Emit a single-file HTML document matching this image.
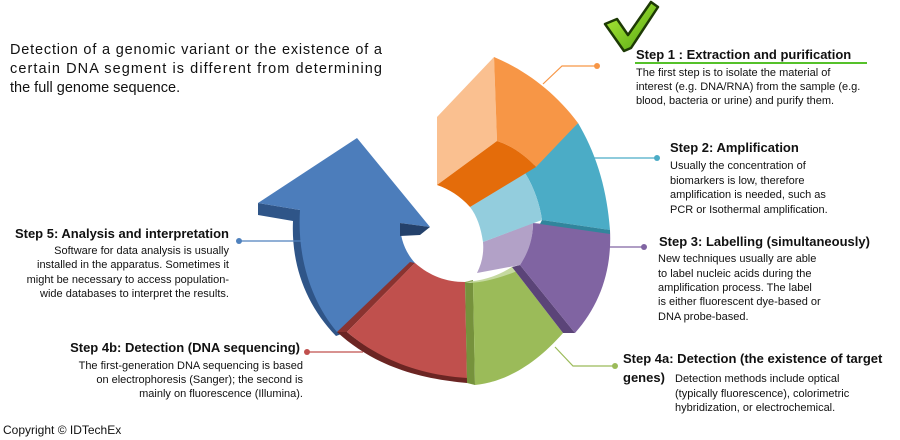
<!DOCTYPE html>
<html><head><meta charset="utf-8"><style>
html,body{margin:0;padding:0;background:#fff;width:900px;height:440px;overflow:hidden}
svg{display:block}
text{font-family:"Liberation Sans",Arial,sans-serif;fill:#111}
.h{font-weight:bold;font-size:13px}
.b{font-size:11px}
</style></head><body>
<svg width="900" height="440" viewBox="0 0 900 440" xmlns="http://www.w3.org/2000/svg">
<defs>
<linearGradient id="cg" x1="0" y1="0" x2="1" y2="1"><stop offset="0" stop-color="#b6f03a"/><stop offset="1" stop-color="#4fa412"/></linearGradient>
</defs>
<!-- intro -->
<text x="10" y="54" font-size="14.5" textLength="372" lengthAdjust="spacing">Detection of a genomic variant or the existence of a</text>
<text x="10" y="73" font-size="14.5" textLength="372" lengthAdjust="spacing">certain DNA segment is different from determining</text>
<text x="10" y="92" font-size="14.5">the full genome sequence.</text>

<!-- blue arrow -->
<path d="M258,203 L258,215 L293,221 C291,265 306,305 336,336 L347,332 L300,210 Z" fill="#2f5588"/>
<path d="M357,138 L258,203 L300,210 C297,255 310,300 337,332 L415,263 C405,252 400,238 400,223 L430,227 Z" fill="#4c7dbb"/>
<path d="M400,223 L430,227 L420,235 L400,236 Z" fill="#24416b"/>
<!-- red -->
<path d="M337,332 L347,332 L415,263 L410,262 Z" fill="#8a3330"/>
<path d="M337,332 C370,362 410,378 467,383 L467,377 C415,372 378,358 347,332 Z" fill="#6b2523"/>
<path d="M415,263 C430,276 446,282 465,282 L467,378 C420,375 380,360 347,332 Z" fill="#c0504d"/>
<!-- green -->
<path d="M465,282 L473,280 L475,385 L467,383 Z" fill="#76923c"/>
<path d="M465,282 C482,282 498,276 512,267 L563,333 C535,365 505,382 475,385 L473,282 Z" fill="#9bbb59"/>
<path d="M465,282 C482,281 498,276 512,267 L520,270 C500,278 485,282 470,283 Z" fill="#c5d9a0"/>
<!-- purple -->
<path d="M512,267 L520,265 L575,333 L563,333 Z" fill="#5b4478"/>
<path d="M520,265 C528,252 533,238 533,223 L610,230 C612,270 600,305 575,333 Z" fill="#8064a2"/>
<path d="M483,242 L533,223 C533,240 528,253 520,265 L477,273 C482,263 484,253 483,242 Z" fill="#b2a1c7"/>
<!-- teal -->
<path d="M525,173 L578,123 C597,155 607,190 610,230 L542,220 C540,205 534,187 525,173 Z" fill="#4bacc6"/>
<path d="M542,220 L610,230 L610,234 L540,224 Z" fill="#31859c"/>
<path d="M470,207 L525,173 C534,187 540,205 542,220 L483,242 C481,228 477,216 470,207 Z" fill="#93cddd"/>
<!-- orange -->
<path d="M437,117 L494,57 L497,141 L437,185 Z" fill="#fac090"/>
<path d="M494,57 C525,70 555,92 578,123 L536,167 C525,155 512,146 497,141 Z" fill="#f79646"/>
<path d="M437,185 L497,141 C512,146 525,155 536,167 L470,207 C460,196 449,189 437,185 Z" fill="#e46c0a"/>

<!-- checkmark -->
<path d="M605,24 L617,19 L628,35 L651,2 L658,7 L631,48 L624,51 Z" fill="url(#cg)" stroke="#1d3a05" stroke-width="2.5" stroke-linejoin="round"/>

<!-- connectors -->
<g stroke-width="1.2" fill="none">
<polyline points="543,84 562,66 597,66" stroke="#f79646"/>
<line x1="587" y1="158" x2="657" y2="158" stroke="#4bacc6"/>
<line x1="597" y1="247" x2="644" y2="247" stroke="#8064a2"/>
<polyline points="555,347 573,366 615,366" stroke="#9bbb59"/>
<line x1="239" y1="241" x2="303" y2="241" stroke="#4f81bd"/>
<line x1="307" y1="352" x2="363" y2="352" stroke="#c0504d"/>
<line x1="635" y1="63" x2="867" y2="63" stroke="#55c12a" stroke-width="2"/>
</g>
<circle cx="597" cy="66" r="3" fill="#f79646"/>
<circle cx="657" cy="158" r="3" fill="#4bacc6"/>
<circle cx="644" cy="247" r="3" fill="#8064a2"/>
<circle cx="615" cy="366" r="3" fill="#9bbb59"/>
<circle cx="239" cy="241" r="3" fill="#4f81bd"/>
<circle cx="307" cy="352" r="3" fill="#c0504d"/>

<!-- step 1 -->
<text class="h" x="636" y="59">Step 1 : Extraction and purification</text>
<text class="b" x="636" y="76">The first step is to isolate the material of</text>
<text class="b" x="636" y="90">interest (e.g. DNA/RNA) from the sample (e.g.</text>
<text class="b" x="636" y="104">blood, bacteria or urine) and purify them.</text>
<!-- step 2 -->
<text class="h" x="670" y="152">Step 2: Amplification</text>
<text class="b" x="670" y="169">Usually the concentration of</text>
<text class="b" x="670" y="184">biomarkers is low, therefore</text>
<text class="b" x="670" y="198">amplification is needed, such as</text>
<text class="b" x="670" y="213">PCR or Isothermal amplification.</text>
<!-- step 3 -->
<text class="h" x="659" y="246">Step 3: Labelling (simultaneously)</text>
<text class="b" x="658" y="262">New techniques usually are able</text>
<text class="b" x="658" y="277">to label nucleic acids during the</text>
<text class="b" x="658" y="291">amplification process. The label</text>
<text class="b" x="658" y="305">is either fluorescent dye-based or</text>
<text class="b" x="658" y="320">DNA probe-based.</text>
<!-- step 4a -->
<text class="h" x="623" y="363">Step 4a: Detection (the existence of target</text>
<text class="h" x="623" y="382">genes)</text>
<text class="b" x="675" y="382">Detection methods include optical</text>
<text class="b" x="675" y="397">(typically fluorescence), colorimetric</text>
<text class="b" x="675" y="411">hybridization, or electrochemical.</text>
<!-- step 5 -->
<g text-anchor="end">
<text class="h" x="229" y="238">Step 5: Analysis and interpretation</text>
<text class="b" x="229" y="254">Software for data analysis is usually</text>
<text class="b" x="229" y="268">installed in the apparatus. Sometimes it</text>
<text class="b" x="229" y="283">might be necessary to access population-</text>
<text class="b" x="229" y="297">wide databases to interpret the results.</text>
<!-- step 4b -->
<text class="h" x="300" y="352">Step 4b: Detection (DNA sequencing)</text>
<text class="b" x="303" y="369">The first-generation DNA sequencing is based</text>
<text class="b" x="303" y="383">on electrophoresis (Sanger); the second is</text>
<text class="b" x="303" y="397">mainly on fluorescence (Illumina).</text>
</g>
<text x="3" y="434" font-size="12">Copyright © IDTechEx</text>
</svg>
</body></html>
